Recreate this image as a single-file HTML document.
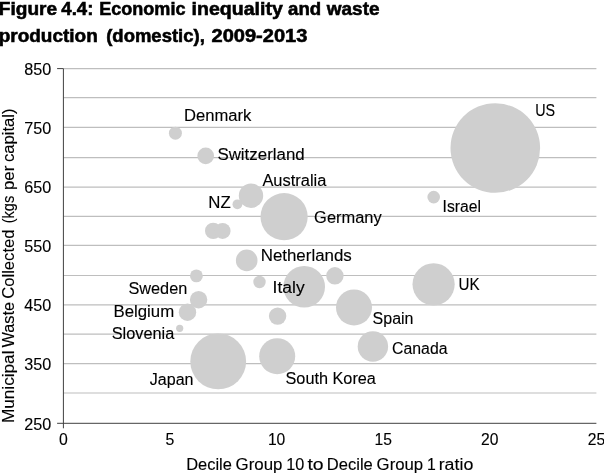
<!DOCTYPE html>
<html><head><meta charset="utf-8"><title>Figure 4.4</title>
<style>
html,body{margin:0;padding:0;background:#fff;}
body{width:604px;height:474px;overflow:hidden;}
svg{display:block;filter:blur(0.35px);}
text{font-family:"Liberation Sans",sans-serif;fill:#000;}
.t{font-weight:bold;font-size:17.7px;stroke:#000;stroke-width:0.55px;}
.l{font-size:15.8px;stroke:#000;stroke-width:0.12px;}
</style></head><body>
<svg width="604" height="474" viewBox="0 0 604 474">
<rect width="604" height="474" fill="#fff"/>
<text class="t" x="-1.2" y="14.7" textLength="58.3" lengthAdjust="spacingAndGlyphs">Figure</text>
<text class="t" x="61.3" y="14.7" textLength="32.1" lengthAdjust="spacingAndGlyphs">4.4:</text>
<text class="t" x="99.2" y="14.7" textLength="86.3" lengthAdjust="spacingAndGlyphs">Economic</text>
<text class="t" x="191.6" y="14.7" textLength="91.2" lengthAdjust="spacingAndGlyphs">inequality</text>
<text class="t" x="288.1" y="14.7" textLength="33.1" lengthAdjust="spacingAndGlyphs">and</text>
<text class="t" x="326.8" y="14.7" textLength="52.7" lengthAdjust="spacingAndGlyphs">waste</text>
<text class="t" x="-1.3" y="42.3" textLength="99.1" lengthAdjust="spacingAndGlyphs">production</text>
<text class="t" x="106.2" y="42.3" textLength="98.6" lengthAdjust="spacingAndGlyphs">(domestic),</text>
<text class="t" x="211.5" y="42.3" textLength="95.9" lengthAdjust="spacingAndGlyphs">2009-2013</text>
<line x1="63.4" y1="68.60" x2="596.4" y2="68.60" stroke="#bebebe" stroke-width="1.2"/>
<line x1="63.4" y1="97.70" x2="596.4" y2="97.70" stroke="#bebebe" stroke-width="1.2"/>
<line x1="63.4" y1="127.30" x2="596.4" y2="127.30" stroke="#bebebe" stroke-width="1.2"/>
<line x1="63.4" y1="157.70" x2="596.4" y2="157.70" stroke="#bebebe" stroke-width="1.2"/>
<line x1="63.4" y1="187.10" x2="596.4" y2="187.10" stroke="#bebebe" stroke-width="1.2"/>
<line x1="63.4" y1="216.30" x2="596.4" y2="216.30" stroke="#bebebe" stroke-width="1.2"/>
<line x1="63.4" y1="245.40" x2="596.4" y2="245.40" stroke="#bebebe" stroke-width="1.2"/>
<line x1="63.4" y1="275.50" x2="596.4" y2="275.50" stroke="#bebebe" stroke-width="1.2"/>
<line x1="63.4" y1="304.80" x2="596.4" y2="304.80" stroke="#bebebe" stroke-width="1.2"/>
<line x1="63.4" y1="334.15" x2="596.4" y2="334.15" stroke="#bebebe" stroke-width="1.2"/>
<line x1="63.4" y1="363.60" x2="596.4" y2="363.60" stroke="#bebebe" stroke-width="1.2"/>
<line x1="63.4" y1="393.00" x2="596.4" y2="393.00" stroke="#bebebe" stroke-width="1.2"/>
<circle cx="175.4" cy="133.2" r="6.5" fill="#cfcfcf"/>
<circle cx="205.7" cy="155.9" r="8.3" fill="#cfcfcf"/>
<circle cx="251.0" cy="195.7" r="12.2" fill="#cfcfcf"/>
<circle cx="237.4" cy="204.3" r="4.9" fill="#cfcfcf"/>
<circle cx="284.1" cy="216.7" r="23.6" fill="#cfcfcf"/>
<circle cx="213.2" cy="230.9" r="8.2" fill="#cfcfcf"/>
<circle cx="222.6" cy="230.9" r="8.0" fill="#cfcfcf"/>
<circle cx="246.7" cy="260.4" r="10.8" fill="#cfcfcf"/>
<circle cx="196.4" cy="275.9" r="6.4" fill="#cfcfcf"/>
<circle cx="259.5" cy="282.0" r="6.2" fill="#cfcfcf"/>
<circle cx="198.6" cy="299.7" r="8.7" fill="#cfcfcf"/>
<circle cx="187.5" cy="312.2" r="8.7" fill="#cfcfcf"/>
<circle cx="179.7" cy="328.3" r="3.6" fill="#cfcfcf"/>
<circle cx="277.6" cy="316.1" r="8.7" fill="#cfcfcf"/>
<circle cx="218.2" cy="361.4" r="27.9" fill="#cfcfcf"/>
<circle cx="277.2" cy="356.2" r="18.0" fill="#cfcfcf"/>
<circle cx="304.2" cy="286.8" r="20.8" fill="#cfcfcf"/>
<circle cx="334.9" cy="275.8" r="8.7" fill="#cfcfcf"/>
<circle cx="354.0" cy="307.4" r="18.0" fill="#cfcfcf"/>
<circle cx="372.9" cy="346.5" r="15.2" fill="#cfcfcf"/>
<circle cx="495.3" cy="148.0" r="44.8" fill="#cfcfcf"/>
<circle cx="433.7" cy="197.1" r="6.3" fill="#cfcfcf"/>
<circle cx="433.6" cy="284.3" r="21.1" fill="#cfcfcf"/>
<line x1="57.1" y1="423.30" x2="596.4" y2="423.30" stroke="#404040" stroke-width="1.0"/>
<line x1="63.4" y1="68.60" x2="63.4" y2="428.30" stroke="#404040" stroke-width="1.0"/>
<line x1="57.1" y1="68.60" x2="63.4" y2="68.60" stroke="#404040" stroke-width="1.0"/>
<text class="l" x="24.2" y="74.9" textLength="27" lengthAdjust="spacingAndGlyphs">850</text>
<text class="l" x="24.2" y="133.6" textLength="27" lengthAdjust="spacingAndGlyphs">750</text>
<text class="l" x="24.2" y="193.4" textLength="27" lengthAdjust="spacingAndGlyphs">650</text>
<text class="l" x="24.2" y="251.7" textLength="27" lengthAdjust="spacingAndGlyphs">550</text>
<text class="l" x="24.2" y="311.1" textLength="27" lengthAdjust="spacingAndGlyphs">450</text>
<text class="l" x="24.2" y="369.9" textLength="27" lengthAdjust="spacingAndGlyphs">350</text>
<text class="l" x="24.2" y="429.6" textLength="27" lengthAdjust="spacingAndGlyphs">250</text>
<text class="l" x="59.0" y="444.5" textLength="8.8" lengthAdjust="spacingAndGlyphs">0</text>
<text class="l" x="165.6" y="444.5" textLength="8.8" lengthAdjust="spacingAndGlyphs">5</text>
<text class="l" x="267.9" y="444.5" textLength="17.4" lengthAdjust="spacingAndGlyphs">10</text>
<text class="l" x="374.5" y="444.5" textLength="17.4" lengthAdjust="spacingAndGlyphs">15</text>
<text class="l" x="481.1" y="444.5" textLength="17.4" lengthAdjust="spacingAndGlyphs">20</text>
<text class="l" x="587.7" y="444.5" textLength="17.4" lengthAdjust="spacingAndGlyphs">25</text>
<text class="l" x="186.2" y="470.2" textLength="45.7" lengthAdjust="spacingAndGlyphs">Decile</text>
<text class="l" x="235.5" y="470.2" textLength="46.9" lengthAdjust="spacingAndGlyphs">Group</text>
<text class="l" x="286.2" y="470.2" textLength="18.1" lengthAdjust="spacingAndGlyphs">10</text>
<text class="l" x="307.4" y="470.2" textLength="16.2" lengthAdjust="spacingAndGlyphs">to</text>
<text class="l" x="326.8" y="470.2" textLength="46.0" lengthAdjust="spacingAndGlyphs">Decile</text>
<text class="l" x="376.6" y="470.2" textLength="46.6" lengthAdjust="spacingAndGlyphs">Group</text>
<text class="l" x="427.0" y="470.2" textLength="8.8" lengthAdjust="spacingAndGlyphs">1</text>
<text class="l" x="438.7" y="470.2" textLength="34.6" lengthAdjust="spacingAndGlyphs">ratio</text>
<text class="l" transform="translate(13.7,423.1) rotate(-90)" x="0" y="0" textLength="72.6" lengthAdjust="spacingAndGlyphs">Municipal</text>
<text class="l" transform="translate(13.7,347.5) rotate(-90)" x="0" y="0" textLength="45.6" lengthAdjust="spacingAndGlyphs">Waste</text>
<text class="l" transform="translate(13.7,298.8) rotate(-90)" x="0" y="0" textLength="69.3" lengthAdjust="spacingAndGlyphs">Collected</text>
<text class="l" transform="translate(13.7,223.3) rotate(-90)" x="0" y="0" textLength="27.5" lengthAdjust="spacingAndGlyphs">(kgs</text>
<text class="l" transform="translate(13.7,190.0) rotate(-90)" x="0" y="0" textLength="24.3" lengthAdjust="spacingAndGlyphs">per</text>
<text class="l" transform="translate(13.7,162.1) rotate(-90)" x="0" y="0" textLength="53.7" lengthAdjust="spacingAndGlyphs">capital)</text>
<text class="l" x="184.0" y="121.1" textLength="67.4" lengthAdjust="spacingAndGlyphs">Denmark</text>
<text class="l" x="217.4" y="160.4" textLength="87.3" lengthAdjust="spacingAndGlyphs">Switzerland</text>
<text class="l" x="262.4" y="185.6" textLength="64.0" lengthAdjust="spacingAndGlyphs">Australia</text>
<text class="l" x="208.3" y="207.8" textLength="22.4" lengthAdjust="spacingAndGlyphs">NZ</text>
<text class="l" x="314.1" y="223.2" textLength="67.6" lengthAdjust="spacingAndGlyphs">Germany</text>
<text class="l" x="260.7" y="260.6" textLength="91.1" lengthAdjust="spacingAndGlyphs">Netherlands</text>
<text class="l" x="128.4" y="293.5" textLength="58.9" lengthAdjust="spacingAndGlyphs">Sweden</text>
<text class="l" x="113.5" y="316.7" textLength="60.7" lengthAdjust="spacingAndGlyphs">Belgium</text>
<text class="l" x="111.7" y="338.5" textLength="62.6" lengthAdjust="spacingAndGlyphs">Slovenia</text>
<text class="l" x="149.8" y="385.4" textLength="43.7" lengthAdjust="spacingAndGlyphs">Japan</text>
<text class="l" x="272.6" y="293.3" textLength="32.1" lengthAdjust="spacingAndGlyphs">Italy</text>
<text class="l" x="372.6" y="324.4" textLength="40.9" lengthAdjust="spacingAndGlyphs">Spain</text>
<text class="l" x="392.1" y="353.5" textLength="55.4" lengthAdjust="spacingAndGlyphs">Canada</text>
<text class="l" x="285.5" y="383.5" textLength="90.4" lengthAdjust="spacingAndGlyphs">South Korea</text>
<text class="l" x="535.2" y="115.9" textLength="19.9" lengthAdjust="spacingAndGlyphs">US</text>
<text class="l" x="442.6" y="211.6" textLength="38.4" lengthAdjust="spacingAndGlyphs">Israel</text>
<text class="l" x="458.6" y="289.9" textLength="21.1" lengthAdjust="spacingAndGlyphs">UK</text>
</svg>
</body></html>
